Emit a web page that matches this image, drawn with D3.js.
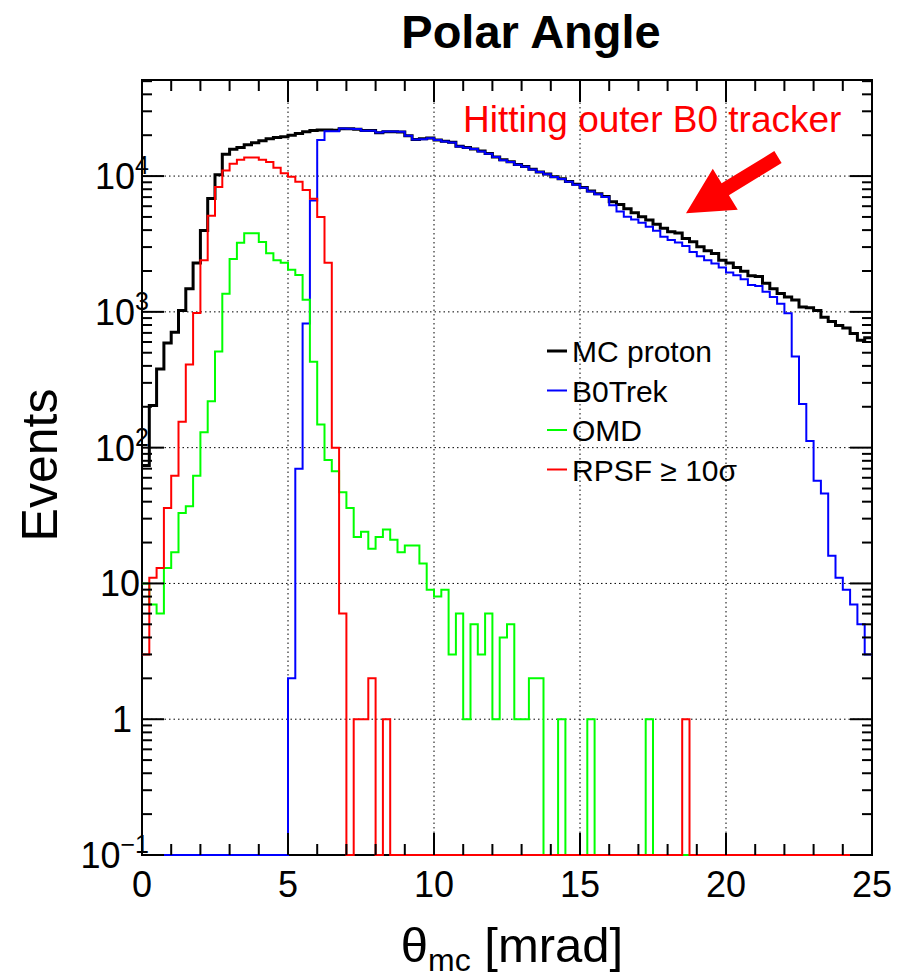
<!DOCTYPE html>
<html>
<head>
<meta charset="utf-8">
<script src="https://cdn.jsdelivr.net/npm/d3@7"></script>
<style>
  body { margin: 0; background: #fff; }
  text { font-family: "Liberation Sans", Arial, Helvetica, sans-serif; }
</style>
</head>
<body>
<div id="dataviz"></div>
<script>
// histogram contents, 100 bins of 0.25 mrad from 0 to 25 mrad
var binWidth = 0.25;

var mcProton = [74, 204, 380, 589, 708, 1023, 1479, 2291, 3981, 6839,
    10233, 14454, 15740, 16218, 16982, 17579, 18197, 18836, 19275, 19498,
    19953, 20606, 21232, 21627, 21878, 21878, 21777, 22284, 22284, 22131,
    21627, 21627, 20893, 21232, 21232, 21135, 19815, 18621, 18836, 19055,
    18408, 18072, 17783, 16596, 16218, 15849, 15276, 14689, 13804, 13183,
    12735, 12162, 11749, 11220, 10715, 10351, 9886, 9550, 9120, 8710,
    8222, 7762, 7413, 7079, 6457, 6166, 5754, 5370, 5012, 4742,
    4426, 4121, 3890, 3802, 3467, 3281, 3020, 2818, 2692, 2399,
    2291, 2118, 1995, 1841, 1820, 1622, 1479, 1368, 1288, 1222,
    1084, 1072, 1023, 912, 851, 794, 759, 692, 617, 646];

var b0Trek = [0, 0, 0, 0, 0, 0, 0, 0, 0, 0,
    0, 0, 0, 0, 0, 0, 0, 0, 0, 0,
    2, 70, 820, 6600, 18400, 21400, 21400, 22400, 22300, 22200,
    21600, 21600, 20900, 21300, 21300, 21200, 19800, 18600, 18700, 19000,
    18400, 18000, 17700, 16500, 16200, 15800, 15200, 14600, 13800, 13100,
    12700, 12100, 11700, 11200, 10700, 10300, 9850, 9500, 9100, 8650,
    8200, 7700, 7350, 7000, 6095, 5495, 5012, 4786, 4529, 4227,
    3954, 3573, 3388, 3236, 3055, 2754, 2570, 2399, 2270, 2118,
    1950, 1862, 1738, 1574, 1549, 1406, 1288, 1148, 977, 470,
    210, 112, 57, 46, 16, 11, 9, 7, 5, 3];

var omd = [10, 7, 6, 13, 17, 33, 37, 62, 130, 220,
    510, 1360, 2450, 3230, 3800, 3800, 3270, 2700, 2400, 2300,
    2040, 1870, 1230, 430, 148, 81, 67, 47, 36, 22,
    24, 18, 22, 25, 21, 17, 19, 19, 14, 9,
    8, 9, 3, 6, 1, 5, 3, 6, 1, 4,
    5, 1, 1, 2, 2, 0, 0, 1, 0, 0,
    0, 1, 0, 0, 0, 0, 0, 0, 0, 1,
    0, 0, 0, 0, 0, 0, 0, 0, 0, 0,
    0, 0, 0, 0, 0, 0, 0, 0, 0, 0,
    0, 0, 0, 0, 0, 0, 0, 0, 0, 0];

var rpsf = [3, 11, 13, 36, 62, 155, 410, 980, 2400, 5100,
    8300, 11000, 12300, 13200, 13700, 13700, 13200, 12700, 11500, 10500,
    9900, 9100, 7900, 6800, 5000, 2300, 100, 6, 0, 1,
    1, 2, 0, 1, 0, 0, 0, 0, 0, 0,
    0, 0, 0, 0, 0, 0, 0, 0, 0, 0,
    0, 0, 0, 0, 0, 0, 0, 0, 0, 0,
    0, 0, 0, 0, 0, 0, 0, 0, 0, 0,
    0, 0, 0, 0, 1, 0, 0, 0, 0, 0,
    0, 0, 0, 0, 0, 0, 0, 0, 0, 0,
    0, 0, 0, 0, 0, 0, 0, 0, 0, 0];

var seriesNames = ["MC proton", "B0Trek", "OMD", "RPSF \u2265 10\u03c3"];
var seriesColors = ["#000000", "#0000ff", "#00ff00", "#ff0000"];
var seriesWidths = [3, 2, 2, 2];

var xTicks = [0, 5, 10, 15, 20, 25];
var yDecades = [-1, 0, 1, 2, 3, 4];

// arrow pointing at the MC / B0 gap: tail and tip in data units
var arrowTail = [21.78, 13800];
var arrowTip = [18.63, 5330];

var width = 897, height = 978;
var pLeft = 142, pRight = 872, pTop = 80, pBottom = 855;

var svg = d3.select("#dataviz")
            .append("svg")
            .attr("width", width)
            .attr("height", height);

var x = d3.scaleLinear().domain([0, 25]).range([pLeft, pRight]);
var y = d3.scaleLog().domain([0.1, 51000]).range([pBottom, pTop]).clamp(true);

// value -> pixel, empty bins sit on the frame bottom
function yPos(v) {
    return v > 0 ? y(v) : pBottom;
}

//dotted grid
svg.append("g")
    .selectAll("line")
    .data(xTicks.slice(1, -1))
    .join("line")
    .attr("x1", d => x(d)).attr("x2", d => x(d))
    .attr("y1", pTop).attr("y2", pBottom)
    .attr("stroke", "#000")
    .attr("stroke-width", 1)
    .attr("stroke-dasharray", "1.5,3");

svg.append("g")
    .selectAll("line")
    .data(yDecades.slice(1))
    .join("line")
    .attr("x1", pLeft).attr("x2", pRight)
    .attr("y1", d => y(Math.pow(10, d))).attr("y2", d => y(Math.pow(10, d)))
    .attr("stroke", "#000")
    .attr("stroke-width", 1)
    .attr("stroke-dasharray", "1.5,3");

//frame (under the histograms, so empty bins show along the bottom)
svg.append("rect")
    .attr("x", pLeft).attr("y", pTop)
    .attr("width", pRight - pLeft).attr("height", pBottom - pTop)
    .attr("fill", "none")
    .attr("stroke", "#000")
    .attr("stroke-width", 2);

//histograms drawn as step outlines
var allSeries = [mcProton, b0Trek, omd, rpsf];

var line = d3.line()
    .x(d => x(d[0]))
    .y(d => yPos(d[1]))
    .curve(d3.curveStepAfter);

allSeries.forEach(function(values, k) {
    var pts = values.map((v, i) => [i * binWidth, v]);
    pts.push([values.length * binWidth, values[values.length - 1]]);
    svg.append("path")
        .attr("d", line(pts))
        .attr("fill", "none")
        .attr("stroke", seriesColors[k])
        .attr("stroke-width", seriesWidths[k])
        .attr("stroke-linejoin", "miter");
});

//x ticks, on bottom and top
var xMinor = d3.range(0, 26, 1);
var tickG = svg.append("g").attr("stroke", "#000").attr("stroke-width", 2);

xMinor.forEach(function(t) {
    var len = (t % 5 === 0) ? 22 : 11;
    tickG.append("line")
        .attr("x1", x(t)).attr("x2", x(t))
        .attr("y1", pBottom).attr("y2", pBottom - len);
    tickG.append("line")
        .attr("x1", x(t)).attr("x2", x(t))
        .attr("y1", pTop).attr("y2", pTop + len);
});

//y ticks, on left and right
var yMinor = [];
for (var e = -1; e <= 4; e++) {
    for (var m = 1; m <= 9; m++) {
        var v = m * Math.pow(10, e);
        if (v <= 51000) yMinor.push({v: v, major: m === 1});
    }
}

yMinor.forEach(function(t) {
    var len = t.major ? 22 : 10;
    tickG.append("line")
        .attr("x1", pLeft).attr("x2", pLeft + len)
        .attr("y1", y(t.v)).attr("y2", y(t.v));
    tickG.append("line")
        .attr("x1", pRight).attr("x2", pRight - len)
        .attr("y1", y(t.v)).attr("y2", y(t.v));
});

//x tick labels
svg.append("g")
    .selectAll("text")
    .data(xTicks)
    .join("text")
    .attr("x", d => x(d))
    .attr("y", 897)
    .attr("text-anchor", "middle")
    .attr("font-size", 36)
    .text(d => d);

//y tick labels with exponents
yDecades.forEach(function(d) {
    var t = svg.append("text")
        .attr("y", y(Math.pow(10, d)) + 13)
        .attr("text-anchor", "end")
        .attr("font-size", 36);
    if (d === 0) {
        t.attr("x", 132).text("1");
    } else if (d === 1) {
        t.attr("x", 140).text("10");
    } else {
        t.attr("x", 149);
        t.append("tspan").text("10");
        t.append("tspan")
            .attr("dy", -15)
            .attr("font-size", 25)
            .text(d === -1 ? "\u22121" : d);
    }
});

//axis titles
svg.append("text")
    .attr("transform", "translate(57,465) rotate(-90)")
    .attr("text-anchor", "middle")
    .attr("font-size", 50)
    .text("Events");

var xt = svg.append("text")
    .attr("x", 512)
    .attr("y", 962)
    .attr("text-anchor", "middle")
    .attr("font-size", 49);
xt.append("tspan").text("\u03b8");
xt.append("tspan").attr("dy", 9).attr("font-size", 32).text("mc");
xt.append("tspan").attr("dy", -9).text(" [mrad]");

//title
svg.append("text")
    .attr("x", 531)
    .attr("y", 48)
    .attr("text-anchor", "middle")
    .attr("font-size", 47)
    .attr("font-weight", "bold")
    .text("Polar Angle");

//legend
var legend = svg.append("g");
seriesNames.forEach(function(name, k) {
    var ly = 351 + k * 39.5;
    legend.append("line")
        .attr("x1", 547).attr("x2", 567)
        .attr("y1", ly).attr("y2", ly)
        .attr("stroke", seriesColors[k])
        .attr("stroke-width", seriesWidths[k]);
    legend.append("text")
        .attr("x", 572)
        .attr("y", ly + 11)
        .attr("font-size", 30)
        .text(name);
});

//annotation and arrow
svg.append("text")
    .attr("x", 463)
    .attr("y", 132)
    .attr("font-size", 37)
    .attr("fill", "#ff0000")
    .text("Hitting outer B0 tracker");

var tx = x(arrowTail[0]), ty = y(arrowTail[1]);
var hx = x(arrowTip[0]), hy = y(arrowTip[1]);
var aLen = Math.hypot(hx - tx, hy - ty);
var ux = (hx - tx) / aLen, uy = (hy - ty) / aLen;
var nx = -uy, ny = ux;
var headLen = 46, headHalf = 24, shaftHalf = 7;
var bx = hx - ux * headLen, by = hy - uy * headLen;

var arrowPts = [
    [tx + nx * shaftHalf, ty + ny * shaftHalf],
    [bx + nx * shaftHalf, by + ny * shaftHalf],
    [bx + nx * headHalf, by + ny * headHalf],
    [hx, hy],
    [bx - nx * headHalf, by - ny * headHalf],
    [bx - nx * shaftHalf, by - ny * shaftHalf],
    [tx - nx * shaftHalf, ty - ny * shaftHalf]
];

svg.append("polygon")
    .attr("points", arrowPts.map(p => p.join(",")).join(" "))
    .attr("fill", "#ff0000");
</script>
</body>
</html>
